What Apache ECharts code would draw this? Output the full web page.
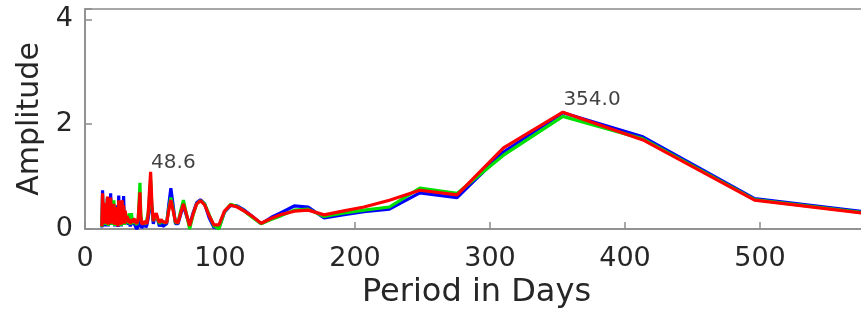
<!DOCTYPE html>
<html>
<head>
<meta charset="utf-8">
<style>
    html, body { margin: 0; padding: 0; background: #fff; }
    #chart { width: 861px; height: 325px; }
</style>
<script src="https://cdn.jsdelivr.net/npm/echarts@6/dist/echarts.min.js"></script>
</head>
<body>
<div id="chart"></div>
<script>
    // periods (days)
    var periods = [
        12.5, 13.0, 13.6, 14.2, 14.8, 15.4, 16.0, 16.6, 17.2, 17.8, 18.4, 19.0, 19.6, 20.2,
        20.8, 21.4, 22.0, 22.6, 23.2, 23.8, 24.4, 25.0, 25.6, 26.2, 26.8, 27.4, 28.0, 28.6,
        29.2, 29.8, 30.5, 31.2, 32.0, 32.6, 33.5, 34.4, 35.4, 36.2, 37.3, 38.3, 39.4,
        40.7, 41.3, 42.0, 42.8, 43.5, 44.3, 45.1, 45.9, 46.8, 47.7, 48.6, 49.6, 50.6, 51.7,
        52.8, 53.9, 55.1, 56.4, 57.7, 59.0, 60.5, 62.0, 63.6, 65.3, 67.0, 68.9, 70.9, 72.9,
        75.2, 77.5, 80.0, 82.7, 85.5, 88.6, 91.9, 95.4, 99.2, 103.3, 107.8, 112.7, 118.1,
        124.0, 130.5, 137.8, 145.9, 155.0, 165.3, 177.1, 190.8, 206.7, 225.5, 248.0, 275.6,
        310.0, 354.0, 413.3, 496.0, 620.0
    ];
    var blueAmp = [
        0.03, 0.74, 0.10, 0.45, 0.05, 0.40, 0.15, 0.58, 0.05, 0.50, 0.10, 0.68, 0.08, 0.35,
        0.12, 0.42, 0.05, 0.30, 0.10, 0.45, 0.04, 0.64, 0.10, 0.32, 0.05, 0.50, 0.15, 0.63,
        0.08, 0.30, 0.10, 0.22, 0.08, 0.18, 0.05, 0.15, 0.08, 0.15, 0.05, 0.00, 0.05,
        0.25, 0.10, 0.02, 0.05, 0.08, 0.12, 0.03, 0.08, 0.20, 0.45, 0.80, 0.35, 0.10, 0.22,
        0.28, 0.18, 0.05, 0.15, 0.05, 0.02, 0.10, 0.45, 0.78, 0.45, 0.10, 0.10, 0.28, 0.45,
        0.25, 0.08, 0.30, 0.50, 0.56, 0.48, 0.22, 0.03, 0.02, 0.32, 0.45, 0.44, 0.36,
        0.24, 0.10, 0.22, 0.32, 0.44, 0.42, 0.21, 0.27, 0.33, 0.38, 0.69, 0.60,
        1.47, 2.22, 1.76, 0.58, 0.20
    ];
    var greenAmp = [
        0.04, 0.65, 0.12, 0.48, 0.08, 0.42, 0.18, 0.58, 0.06, 0.52, 0.12, 0.58, 0.08, 0.45,
        0.15, 0.55, 0.06, 0.38, 0.10, 0.40, 0.06, 0.52, 0.12, 0.36, 0.06, 0.52, 0.18, 0.42,
        0.08, 0.32, 0.12, 0.22, 0.10, 0.30, 0.08, 0.30, 0.10, 0.18, 0.12, 0.08, 0.18,
        0.88, 0.30, 0.12, 0.10, 0.12, 0.15, 0.10, 0.12, 0.30, 0.60, 0.95, 0.40, 0.15, 0.25,
        0.28, 0.18, 0.10, 0.15, 0.12, 0.12, 0.12, 0.38, 0.60, 0.38, 0.12, 0.12, 0.35, 0.55,
        0.28, 0.00, 0.26, 0.48, 0.54, 0.48, 0.28, 0.06, 0.00, 0.33, 0.47, 0.43, 0.34,
        0.22, 0.10, 0.18, 0.26, 0.36, 0.38, 0.24, 0.30, 0.36, 0.42, 0.78, 0.68,
        1.41, 2.15, 1.72, 0.56, 0.18
    ];
    var redAmp = [
        0.05, 0.68, 0.15, 0.50, 0.10, 0.45, 0.20, 0.62, 0.08, 0.55, 0.15, 0.60, 0.10, 0.40,
        0.18, 0.48, 0.08, 0.35, 0.12, 0.42, 0.05, 0.55, 0.15, 0.38, 0.08, 0.55, 0.20, 0.45,
        0.10, 0.35, 0.15, 0.25, 0.12, 0.20, 0.10, 0.18, 0.12, 0.20, 0.15, 0.10, 0.20,
        0.70, 0.25, 0.10, 0.12, 0.10, 0.15, 0.12, 0.10, 0.30, 0.70, 1.09, 0.45, 0.15, 0.25,
        0.30, 0.20, 0.12, 0.18, 0.14, 0.15, 0.12, 0.35, 0.55, 0.35, 0.14, 0.12, 0.30, 0.48,
        0.28, 0.06, 0.28, 0.48, 0.54, 0.46, 0.26, 0.08, 0.08, 0.34, 0.46, 0.42, 0.34,
        0.24, 0.11, 0.20, 0.28, 0.34, 0.36, 0.27, 0.34, 0.42, 0.55, 0.74, 0.65,
        1.55, 2.23, 1.70, 0.55, 0.17
    ];
    // peak annotations
    var annoPeriods = [48.6, 354.0];
    var annoY = [1.27, 2.46];
    var yTicks = [0, 2, 4];

    function pairs(xs, ys) {
        var out = [];
        for (var i = 0; i < xs.length; i++) {
            out.push([xs[i], ys[i]]);
        }
        return out;
    }

    function lineSeries(name, color, amps) {
        return {
            name: name,
            type: "line",
            data: pairs(periods, amps),
            showSymbol: false,
            symbol: "none",
            lineStyle: { color: color, width: 3.2 },
            itemStyle: { color: color },
            animation: false
        };
    }

    var axisColor = "#8c8c8c";
    var textColor = "#262626";
    var font = "DejaVu Sans";

    var myChart = echarts.init(document.getElementById("chart"));
    myChart.setOption({
        animation: false,
        grid: {
            left: 85,
            top: 9,
            width: 783,
            height: 220,
            show: true,
            borderColor: axisColor,
            borderWidth: 1.5,
            outerBoundsMode: "none"
        },
        xAxis: {
            type: "value",
            min: 0,
            max: 580,
            interval: 100,
            name: "Period in Days",
            nameLocation: "middle",
            nameGap: 44,
            nameTextStyle: { fontFamily: font, fontSize: 32, color: textColor },
            axisLine: { show: true, lineStyle: { color: axisColor, width: 1.5 } },
            axisTick: { show: true, inside: true, length: 7, lineStyle: { color: axisColor, width: 1.5 } },
            axisLabel: {
                fontFamily: font, fontSize: 27, color: textColor, margin: 16,
                showMaxLabel: false
            },
            splitLine: { show: false }
        },
        yAxis: {
            type: "value",
            min: 0,
            max: 4.2,
            interval: 2,
            name: "Amplitude",
            nameLocation: "middle",
            nameGap: 40,
            nameTextStyle: { fontFamily: font, fontSize: 30, color: textColor },
            axisLine: { show: true, lineStyle: { color: axisColor, width: 1.5 } },
            axisTick: { show: true, inside: true, length: 7, lineStyle: { color: axisColor, width: 1.5 } },
            axisLabel: {
                fontFamily: font, fontSize: 27, color: textColor, margin: 12,
                formatter: function (v) {
                    return yTicks.indexOf(v) >= 0 ? String(v) : "";
                }
            },
            splitLine: { show: false }
        },
        series: [
            lineSeries("blue", "#0000ff", blueAmp),
            lineSeries("green", "#00e000", greenAmp),
            lineSeries("red", "#ff0000", redAmp),
            {
                // peak period labels
                type: "scatter",
                data: pairs(annoPeriods, annoY),
                symbolSize: 1,
                itemStyle: { color: "rgba(0,0,0,0)" },
                label: {
                    show: true,
                    position: "right",
                    distance: 0,
                    fontFamily: font,
                    fontSize: 20,
                    color: "#111",
                    formatter: function (p) {
                        return p.value[0].toFixed(1);
                    }
                },
                z: 5,
                animation: false
            }
        ]
    });
</script>
</body>
</html>
